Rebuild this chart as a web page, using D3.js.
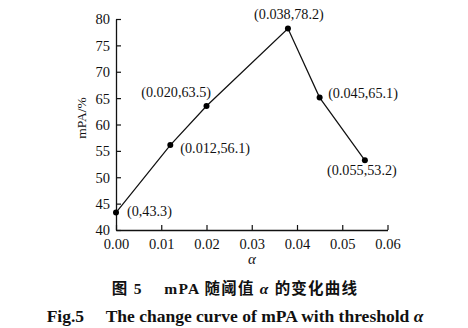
<!DOCTYPE html>
<html><head><meta charset="utf-8">
<script src="https://cdn.jsdelivr.net/npm/d3@7"></script>
<style>
body{margin:0;background:#fff;}
text{font-family:"Liberation Serif","Times New Roman",serif;fill:#111;}
</style></head>
<body><svg id="c" width="468" height="328"></svg>
<script>
// threshold α and resulting mPA (%)
const alphaValues = [0, 0.012, 0.020, 0.038, 0.045, 0.055];
const mpaValues = [43.3, 56.1, 63.5, 78.2, 65.1, 53.2];
const pointLabels = ["(0,43.3)", "(0.012,56.1)", "(0.020,63.5)", "(0.038,78.2)", "(0.045,65.1)", "(0.055,53.2)"];
const xTicks = [0, 0.01, 0.02, 0.03, 0.04, 0.05, 0.06];
const yTicks = [40, 45, 50, 55, 60, 65, 70, 75, 80];

const svg = d3.select("#c");
const x = d3.scaleLinear().domain([0, 0.06]).range([116, 387.5]);
const y = d3.scaleLinear().domain([40, 80]).range([230, 19]);

const xAxis = svg.append("g").attr("transform", `translate(0,${y(40)})`)
  .call(d3.axisBottom(x).tickValues(xTicks).tickFormat(d3.format(".2f")).tickSizeInner(-5).tickSizeOuter(0).tickPadding(9));
const yAxis = svg.append("g").attr("transform", `translate(${x(0)},0)`)
  .call(d3.axisLeft(y).tickValues(yTicks).tickSizeInner(-5).tickSizeOuter(0).tickPadding(6));
[xAxis, yAxis].forEach(g => {
  g.select(".domain").attr("stroke", "#111").attr("stroke-width", 1.3);
  g.selectAll(".tick line").attr("stroke", "#111").attr("stroke-width", 1.2);
  g.selectAll(".tick text").attr("font-size", 14.5).attr("font-family", "Liberation Serif").attr("fill", "#111");
});
yAxis.selectAll(".tick text").attr("dy", "0.34em");

// axis titles
svg.append("text").attr("transform", "translate(86,118) rotate(-90)")
  .attr("text-anchor", "middle").attr("font-size", 13.5).text("mPA/%");
svg.append("text").attr("x", 252).attr("y", 264).attr("text-anchor", "middle")
  .attr("font-size", 15).attr("font-style", "italic").text("α");

// curve
const pts = alphaValues.map((a, i) => [a, mpaValues[i]]);
svg.append("path").datum(pts)
  .attr("fill", "none").attr("stroke", "#111").attr("stroke-width", 1.25)
  .attr("d", d3.line().x(d => x(d[0])).y(d => y(d[1])));
svg.selectAll("circle.pt").data(pts).join("circle")
  .attr("cx", d => x(d[0])).attr("cy", d => y(d[1])).attr("r", 3).attr("fill", "#000");

// value labels: offsets relative to each point
const labelPos = [
  {dx: 11, dy: 3, anchor: "start"},
  {dx: 10, dy: 7.5, anchor: "start"},
  {dx: 4.5, dy: -9, anchor: "end"},
  {dx: 1, dy: -9.5, anchor: "middle"},
  {dx: 8.5, dy: 0.5, anchor: "start"},
  {dx: -3, dy: 15, anchor: "middle"}
];
svg.selectAll("text.lbl").data(pts).join("text")
  .attr("class", "lbl")
  .attr("x", (d, i) => x(d[0]) + labelPos[i].dx)
  .attr("y", (d, i) => y(d[1]) + labelPos[i].dy)
  .attr("text-anchor", (d, i) => labelPos[i].anchor)
  .attr("font-size", 14.2)
  .text((d, i) => pointLabels[i]);

// captions
svg.append("text").attr("x", 235).attr("y", 294).attr("text-anchor", "middle")
  .attr("font-size", 15.5).attr("font-weight", "bold").attr("xml:space", "preserve")
  .attr("letter-spacing", 1.2)
  .style("font-family", "'Liberation Serif','Noto Sans CJK SC',serif")
  .html('图 5　 mPA 随阈值 <tspan font-style="italic">α</tspan> 的变化曲线');
svg.append("text").attr("x", 235).attr("y", 322).attr("text-anchor", "middle")
  .attr("font-size", 17.5).attr("font-weight", "bold").attr("xml:space", "preserve")
  .html('Fig.5     The change curve of mPA with threshold <tspan font-style="italic">α</tspan>');
</script></body></html>
